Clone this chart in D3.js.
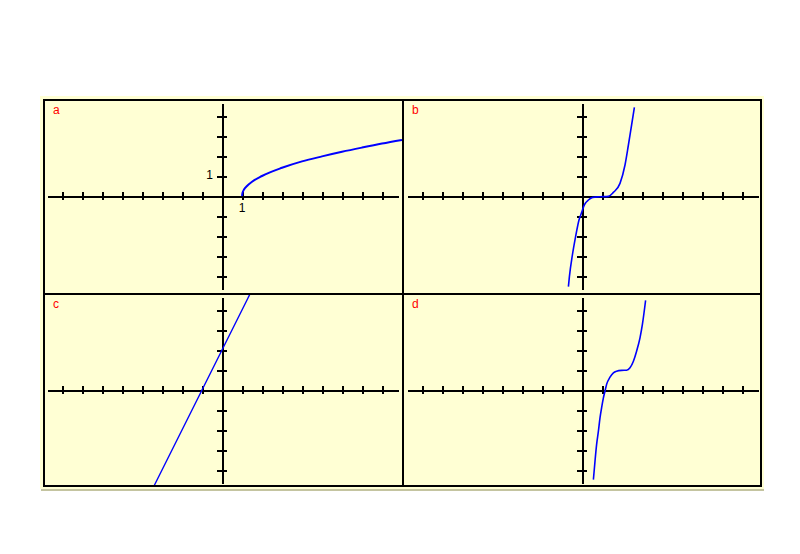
<!DOCTYPE html>
<html>
<head>
<meta charset="UTF-8">
<title>Four graphs a b c d</title>
<script src="https://d3js.org/d3.v7.min.js"></script>
<style>
    body {
        margin: 0;
        background-color: #fff;
        font-family: "Liberation Sans", Arial, sans-serif;
    }
    .panelLabel {
        fill: #f00;
        font-size: 12px;
    }
    .unitLabel {
        fill: #000;
        font-size: 12px;
    }
</style>
</head>
<body>
<script>
    // tick values (units of the grid)
    var xTicks = [-8, -7, -6, -5, -4, -3, -2, -1, 1, 2, 3, 4, 5, 6, 7, 8];
    var yTicks = [-4, -3, -2, -1, 1, 2, 3, 4];
    var panelNames = ["a", "b", "c", "d"];

    // curve a
    var aX = [1, 1.03, 1.1, 1.25, 1.5, 2, 3, 4, 5, 6, 7, 8, 9];
    var aY = [0, 0.17, 0.32, 0.5, 0.71, 1.0, 1.41, 1.73, 1.98, 2.21, 2.42, 2.62, 2.8];

    // curve b
    var bX = [-0.68, -0.63, -0.48, -0.32, -0.15, 0, 0.08, 0.2, 0.32, 0.53, 0.9, 1.32, 1.57, 1.9, 2.15, 2.32, 2.48, 2.62];
    var bY = [-4.53, -4.03, -2.95, -2.03, -1.2, -0.78, -0.53, -0.32, -0.2, -0.07, -0.04, -0.02, 0.18, 0.63, 1.55, 2.55, 3.55, 4.43];

    // curve c (straight line)
    var cX = [-3.4, -1, 0, 1.42];
    var cY = [-4.8, 0, 2, 4.84];

    // curve d
    var dX = [0.57, 0.65, 0.73, 0.82, 0.9, 0.98, 1.07, 1.15, 1.23, 1.4, 1.57, 1.73, 1.98, 2.23, 2.4, 2.57, 2.73, 2.9, 3.02, 3.18];
    var dY = [-4.48, -3.56, -2.73, -2.06, -1.39, -0.89, -0.39, -0.06, 0.28, 0.64, 0.86, 0.94, 0.98, 0.99, 1.11, 1.44, 1.94, 2.61, 3.28, 4.48];

    var svg = d3.select("body").append("svg")
        .attr("width", 800)
        .attr("height", 554);

    // yellow paper and frame
    svg.append("rect")
        .attr("x", 40).attr("y", 96)
        .attr("width", 724).attr("height", 393)
        .attr("fill", "#ffffd4");
    svg.append("line")
        .attr("x1", 41).attr("x2", 764)
        .attr("y1", 490).attr("y2", 490)
        .attr("stroke", "#c4c4a0").attr("stroke-width", 2);

    var panels = [
        {name: panelNames[0], left: 44, top: 100, ox: 222, oy: 196, xs: aX, ys: aY, sw: 2},
        {name: panelNames[1], left: 403, top: 100, ox: 582, oy: 196, xs: bX, ys: bY, sw: 1.6},
        {name: panelNames[2], left: 44, top: 294, ox: 222, oy: 390, xs: cX, ys: cY, sw: 1.4},
        {name: panelNames[3], left: 403, top: 294, ox: 582, oy: 390, xs: dX, ys: dY, sw: 1.6}
    ];

    panels.forEach(function(p, i) {
        var x = d3.scaleLinear().domain([-8.75, 8.8]).range([p.ox - 175, p.ox + 176]);
        var y = d3.scaleLinear().domain([-4.65, 4.65]).range([p.oy + 93, p.oy - 93]);

        var g = svg.append("g");

        g.append("clipPath").attr("id", "clip" + i)
            .append("rect")
            .attr("x", p.left).attr("y", p.top)
            .attr("width", 359).attr("height", 193);

        // x axis
        var xa = g.append("g")
            .attr("transform", "translate(0," + p.oy + ")")
            .call(d3.axisBottom(x).tickValues(xTicks).tickFormat("").tickSizeOuter(0));
        // y axis
        var ya = g.append("g")
            .attr("transform", "translate(" + p.ox + ",0)")
            .call(d3.axisLeft(y).tickValues(yTicks).tickFormat("").tickSizeOuter(0));

        xa.selectAll(".tick line").attr("y1", -4).attr("y2", 4);
        ya.selectAll(".tick line").attr("x1", -5).attr("x2", 5);
        g.selectAll(".domain, .tick line")
            .attr("stroke", "#000")
            .attr("stroke-width", 2)
            .attr("shape-rendering", "crispEdges");

        var pts = p.xs.map(function(v, k) { return [v, p.ys[k]]; });
        var line = d3.line()
            .x(function(d) { return x(d[0]); })
            .y(function(d) { return y(d[1]); })
            .curve(d3.curveMonotoneX);

        g.append("path")
            .datum(pts)
            .attr("clip-path", "url(#clip" + i + ")")
            .attr("d", line)
            .attr("fill", "none")
            .attr("stroke", "#0000ff")
            .attr("stroke-width", p.sw);

        g.append("text")
            .attr("class", "panelLabel")
            .attr("x", p.left + 9)
            .attr("y", p.top + 14)
            .text(p.name);

        if (i == 0) {
            g.append("text")
                .attr("class", "unitLabel")
                .attr("x", p.ox - 9)
                .attr("y", y(1) + 3)
                .attr("text-anchor", "end")
                .text("1");
            g.append("text")
                .attr("class", "unitLabel")
                .attr("x", x(1))
                .attr("y", p.oy + 16)
                .attr("text-anchor", "middle")
                .text("1");
        }
    });

    // frame lines
    var frame = [
        [44, 99, 44, 487],
        [43, 100, 762, 100],
        [761, 99, 761, 487],
        [43, 486, 762, 486],
        [403, 99, 403, 487],
        [43, 294, 762, 294]
    ];
    svg.selectAll(".frame")
        .data(frame)
        .enter()
        .append("line")
        .attr("x1", d => d[0]).attr("y1", d => d[1])
        .attr("x2", d => d[2]).attr("y2", d => d[3])
        .attr("stroke", "#000")
        .attr("stroke-width", 2)
        .attr("shape-rendering", "crispEdges");
</script>
</body>
</html>
